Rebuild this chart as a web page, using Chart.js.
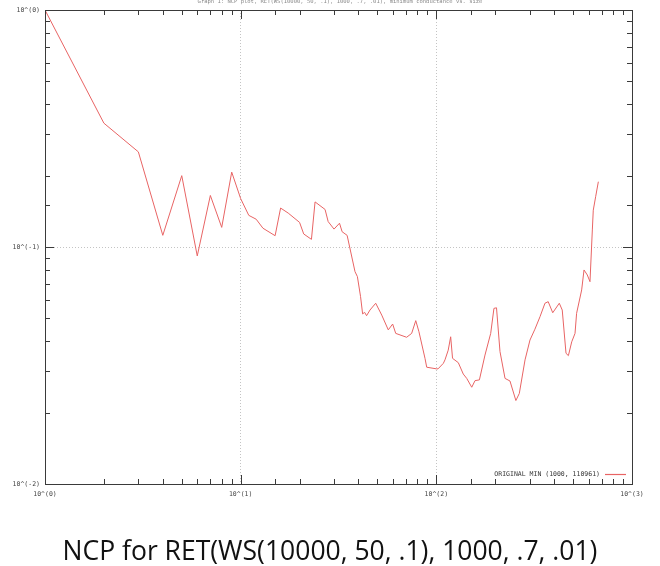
<!DOCTYPE html>
<html><head><meta charset="utf-8">
<script src="https://cdn.jsdelivr.net/npm/chart.js@4.4.1/dist/chart.umd.min.js"></script>
<style>html,body{margin:0;padding:0;background:#fff;overflow:hidden}canvas{display:block}</style>
</head><body>
<canvas id="c" width="660" height="566"></canvas>
<script>
// ---- data ----
const clusterSizes = [1, 2, 3, 4, 5, 6, 7, 8, 9, 10,
  11, 12, 13, 15, 16, 17.5, 20, 21, 23, 24,
  27, 28, 30, 32, 33, 35, 38.4, 39.5, 41, 42,
  43, 44, 45.8, 49, 52.6, 56.8, 59.8, 62, 70.5, 74.8,
  78.5, 81.5, 87.5, 89.3, 100.4, 102, 108.6, 110.7, 115, 118.4,
  121, 129.5, 137.3, 143, 151.7, 157.7, 166, 177.3, 189.6, 197,
  203, 211.5, 224.4, 237.9, 255, 265.5, 284, 301, 319, 338.7,
  359, 373, 393.5, 425, 440, 460, 473, 492, 511.5, 521,
  553, 568.6, 591, 610, 627, 634, 652, 673];
const minConductance = [1, 0.333, 0.252, 0.112, 0.2, 0.0917, 0.165, 0.121, 0.207, 0.16,
  0.136, 0.131, 0.12, 0.1116, 0.146, 0.139, 0.127, 0.1135, 0.1077, 0.155,
  0.144, 0.128, 0.119, 0.126, 0.116, 0.112, 0.0787, 0.075, 0.0617, 0.0522,
  0.053, 0.0513, 0.0542, 0.0579, 0.0516, 0.0447, 0.0473, 0.0432, 0.0416, 0.0432,
  0.0489, 0.0439, 0.0339, 0.0311, 0.0306, 0.0306, 0.0323, 0.0334, 0.0367, 0.0418,
  0.0339, 0.0325, 0.0291, 0.0279, 0.0256, 0.0273, 0.0275, 0.035, 0.0432, 0.0551,
  0.0554, 0.0362, 0.0279, 0.0272, 0.0225, 0.0241, 0.0334, 0.0405, 0.045, 0.0508,
  0.0579, 0.0588, 0.0528, 0.0579, 0.0542, 0.0356, 0.0348, 0.0398, 0.0432, 0.0525,
  0.0659, 0.08, 0.0762, 0.0714, 0.118, 0.143, 0.163, 0.1886];
const xMajorTicks = [1, 10, 100, 1000];
const xTickLabels = ['10^(0)', '10^(1)', '10^(2)', '10^(3)'];
const yMajorTicks = [0.01, 0.1, 1];
const yTickLabels = ['10^(-2)', '10^(-1)', '10^(0)'];
const seriesLabel = 'ORIGINAL MIN (1000, 110961)';
const plotTitle = 'Graph 1: NCP plot, RET(WS(10000, 50, .1), 1000, .7, .01), minimum conductance vs. size';
const caption = 'NCP for RET(WS(10000, 50, .1), 1000, .7, .01)';

// ---- helpers ----
const MONO = '"DejaVu Sans Mono", "Liberation Mono", monospace';
function majorIndex(list, v) {
  return list.findIndex(m => Math.abs(m - v) / m < 1e-6);
}
function isMajor(v) {
  const l = Math.log10(v);
  return Math.abs(l - Math.round(l)) < 1e-6;
}

const framePlugin = {
  id: 'frame',
  afterDraw(chart) {
    const ctx = chart.ctx;
    const a = chart.chartArea;
    const xs = chart.scales.x, ys = chart.scales.y;
    ctx.save();
    ctx.strokeStyle = '#3a3a3a';
    ctx.lineWidth = 1;
    // frame
    ctx.strokeRect(Math.round(a.left) + 0.5, Math.round(a.top) + 0.5,
      Math.round(a.right - a.left), Math.round(a.bottom - a.top));
    // inward ticks
    ctx.beginPath();
    xs.ticks.forEach(t => {
      const px = Math.round(xs.getPixelForValue(t.value)) + 0.5;
      const len = isMajor(t.value) ? 9 : 5;
      ctx.moveTo(px, a.bottom); ctx.lineTo(px, a.bottom - len);
      ctx.moveTo(px, a.top); ctx.lineTo(px, a.top + len);
    });
    ys.ticks.forEach(t => {
      const py = Math.round(ys.getPixelForValue(t.value)) + 0.5;
      const len = isMajor(t.value) ? 9 : 5;
      ctx.moveTo(a.left, py); ctx.lineTo(a.left + len, py);
      ctx.moveTo(a.right, py); ctx.lineTo(a.right - len, py);
    });
    ctx.stroke();

    // key (gnuplot style: text then sample line)
    const ds = chart.data.datasets[0];
    ctx.font = '6.5px ' + MONO;
    ctx.fillStyle = '#333';
    ctx.textAlign = 'right';
    ctx.textBaseline = 'middle';
    const ky = a.bottom - 10;
    ctx.fillText(ds.label, a.right - 32, ky);
    ctx.strokeStyle = ds.borderColor;
    ctx.lineWidth = 1.2;
    ctx.beginPath();
    ctx.moveTo(a.right - 27, ky + 0.5); ctx.lineTo(a.right - 6, ky + 0.5);
    ctx.stroke();

    // tiny title at top
    ctx.font = '5.5px ' + MONO;
    ctx.fillStyle = '#8a8a8a';
    ctx.textAlign = 'center';
    ctx.textBaseline = 'middle';
    ctx.fillText(plotTitle, 340, 2);

    // caption below the plot
    const capFont = '"Open Sans", "Lato", sans-serif';
    ctx.font = '100px ' + capFont;
    const w100 = ctx.measureText(caption).width;
    const size = 100 * 535 / w100;
    ctx.font = size + 'px ' + capFont;
    ctx.fillStyle = '#111';
    ctx.textAlign = 'center';
    ctx.textBaseline = 'alphabetic';
    ctx.fillText(caption, 330, 560);
    ctx.restore();
  }
};

const gridColor = c => {
  const v = c.tick && c.tick.value;
  if (v === undefined) return 'rgba(0,0,0,0)';
  const ends = [c.scale.min, c.scale.max];
  if (ends.some(e => Math.abs(e - v) / e < 1e-6)) return 'rgba(0,0,0,0)';
  return isMajor(v) ? '#c4c4c4' : 'rgba(0,0,0,0)';
};

new Chart(document.getElementById('c'), {
  type: 'line',
  data: {
    datasets: [{
      label: seriesLabel,
      data: clusterSizes.map((x, i) => ({ x: x, y: minConductance[i] })),
      borderColor: 'rgb(232,100,100)',
      borderWidth: 1,
      pointRadius: 0,
      tension: 0,
      fill: false
    }]
  },
  options: {
    responsive: false,
    animation: false,
    devicePixelRatio: 1,
    layout: { padding: { left: 0, top: 10, right: 28, bottom: 0 } },
    plugins: { legend: { display: false }, tooltip: { enabled: false }, title: { display: false } },
    scales: {
      x: {
        type: 'logarithmic',
        min: 1, max: 1000,
        afterFit: s => { s.height = 82; },
        border: { display: false, dash: [1, 2] },
        grid: { drawTicks: false, color: gridColor, lineWidth: 1 },
        ticks: {
          autoSkip: false, maxRotation: 0, minRotation: 0, padding: 6,
          font: { family: MONO, size: 6.5 }, color: '#444',
          callback: v => { const i = majorIndex(xMajorTicks, v); return i >= 0 ? xTickLabels[i] : ''; }
        }
      },
      y: {
        type: 'logarithmic',
        min: 0.01, max: 1,
        afterFit: s => { s.width = 45; },
        border: { display: false, dash: [1, 2] },
        grid: { drawTicks: false, color: gridColor, lineWidth: 1 },
        ticks: {
          autoSkip: false, padding: 5,
          font: { family: MONO, size: 6.5 }, color: '#444',
          callback: v => { const i = majorIndex(yMajorTicks, v); return i >= 0 ? yTickLabels[i] : ''; }
        }
      }
    }
  },
  plugins: [framePlugin]
});
</script>
</body></html>
